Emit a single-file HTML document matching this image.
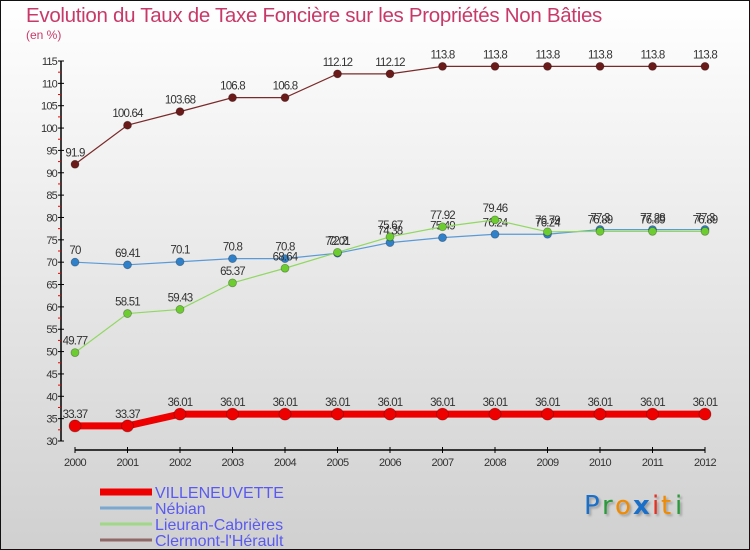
<!DOCTYPE html>
<html><head><meta charset="utf-8"><style>
html,body{margin:0;padding:0;}
body{width:750px;height:550px;overflow:hidden;font-family:"Liberation Sans",sans-serif;}
svg{display:block;}
</style></head><body>
<svg id="chart" width="750" height="550" xmlns="http://www.w3.org/2000/svg">
<defs>
<linearGradient id="bg" x1="0" y1="0" x2="0" y2="1">
<stop offset="0" stop-color="#ffffff"/><stop offset="1" stop-color="#d0d0d0"/>
</linearGradient>
</defs>
<rect x="0.5" y="0.5" width="749" height="549" fill="url(#bg)" stroke="#111" stroke-width="1"/>
<text x="26" y="22" font-size="20.5" fill="#c8396a" letter-spacing="-0.3">Evolution du Taux de Taxe Foncière sur les Propriétés Non Bâties</text>
<text x="26" y="39" font-size="12" fill="#c8396a">(en %)</text>
<g id="axes"></g>
<g id="series"></g>
<g id="legend"></g>
<g font-family="'DejaVu Sans',sans-serif" font-size="26" style="filter:drop-shadow(2px 2px 1px rgba(0,0,0,0.25))">
<text x="584" y="514" fill="#1a6fc9">P</text><text x="602" y="514" fill="#2a9a3a">r</text><text x="615" y="514" fill="#f28a00">o</text><text x="633" y="514" fill="#1a6fc9" font-weight="bold">x</text><text x="652" y="514" fill="#e63020">i</text><text x="661" y="514" fill="#f28a00">t</text><text x="675" y="514" fill="#2a9a3a">i</text>
</g>
</svg>
<script>
const years = [2000,2001,2002,2003,2004,2005,2006,2007,2008,2009,2010,2011,2012];
const villeneuvette = [33.37,33.37,36.01,36.01,36.01,36.01,36.01,36.01,36.01,36.01,36.01,36.01,36.01];
const nebian = [70,69.41,70.1,70.8,70.8,72.01,74.38,75.49,76.24,76.24,77.3,77.28,77.3];
const lieuran = [49.77,58.51,59.43,65.37,68.64,72.2,75.67,77.92,79.46,76.79,76.89,76.89,76.89];
const clermont = [91.9,100.64,103.68,106.8,106.8,112.12,112.12,113.8,113.8,113.8,113.8,113.8,113.8];
const yTicks = [30,35,40,45,50,55,60,65,70,75,80,85,90,95,100,105,110,115];

const NS="http://www.w3.org/2000/svg";
const x = i => 75 + i*52.5;
const y = v => 441 - (v-30)*(380/85);
function mk(tag, attrs, parent, txt){const e=document.createElementNS(NS,tag);for(const k in attrs)e.setAttribute(k,attrs[k]);if(txt!==undefined)e.textContent=txt;parent.appendChild(e);return e;}
const axes=document.getElementById('axes');
let a=mk('line',{x1:61,y1:y(115),x2:61,y2:y(30),stroke:'#000','stroke-width':1.5},axes);


yTicks.forEach(t=>{
  mk('line',{x1:58,y1:y(t),x2:64,y2:y(t),stroke:'#000'},axes);
  const tl=mk('text',{x:57,y:y(t)+4,'font-size':11,'text-anchor':'end',fill:'#333','letter-spacing':'-0.8'},axes,t);
  
  
  if(t<115) mk('line',{x1:58,y1:y(t+2.5),x2:61,y2:y(t+2.5),stroke:'#e00'},axes);
});
a=mk('line',{x1:75,y1:450,x2:705,y2:450,stroke:'#000','stroke-width':1.5},axes);


years.forEach((yr,i)=>{
  mk('line',{x1:x(i),y1:447,x2:x(i),y2:453,stroke:'#000'},axes);
  const tl=mk('text',{x:x(i),y:466,'font-size':11,'text-anchor':'middle',fill:'#333','letter-spacing':'-0.6'},axes,yr);
  
  
});
const ser=document.getElementById('series');
function draw(vals,name,color,dot,width,r){
  const g=mk('g',{},ser);
  
  
  const l=mk('polyline',{points:vals.map((v,i)=>x(i)+','+y(v)).join(' '),fill:'none',stroke:color,'stroke-width':width},g);
  
  
  vals.forEach((v,i)=>{
    const c=mk('circle',{cx:x(i),cy:y(v),r:r,fill:dot,stroke:'rgba(0,0,0,0.3)','stroke-width':0.8},g);
    
    
    const t=mk('text',{x:x(i),y:y(v)-8,'font-size':11.5,'text-anchor':'middle',fill:'#333','letter-spacing':'-0.8'},g,String(v));
    
    
  });
}
draw(clermont,'clermont','#7a2a2a','#6b1a1a',1.2,4);
draw(nebian,'nebian','#5a9ad8','#2f80c8',1.2,4);
draw(lieuran,'lieuran','#90d860','#6ccc30',1.2,4);
draw(villeneuvette,'villeneuvette','#ee0000','#ee0000',7,6);
const lg=document.getElementById('legend');
const items=[['VILLENEUVETTE','#ee0000',7],['Nébian','#7aa8d0',3],['Lieuran-Cabrières','#a0d888',3],['Clermont-l\'Hérault','#906868',3]];
items.forEach((it,i)=>{
  const yy=492+i*16;
  const ln=mk('line',{x1:100,y1:yy,x2:152,y2:yy,stroke:it[1],'stroke-width':it[2]},lg);
  
  
  const t=mk('text',{x:155,y:yy+6,'font-size':16,fill:'#5a5af0'},lg,it[0]);
  
  
});
</script>
</body></html>
